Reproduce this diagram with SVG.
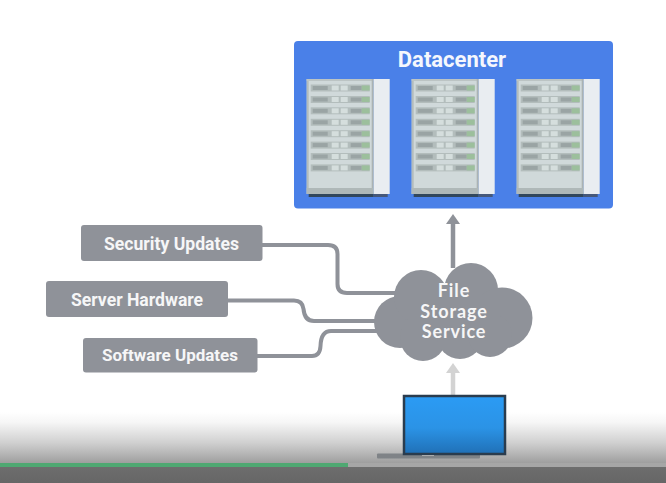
<svg xmlns="http://www.w3.org/2000/svg" xmlns:xlink="http://www.w3.org/1999/xlink" width="666" height="483" viewBox="0 0 666 483">
<style>
.lbl{fill:#8f9299}
.lt{font-family:Roboto,"Liberation Sans",sans-serif;font-weight:700;font-size:17.6px;fill:#f6f6f7;text-anchor:middle}
.ct{font-family:Lato,"Open Sans",sans-serif;font-weight:700;font-size:18px;letter-spacing:0.9px;fill:#f6f6f7;text-anchor:middle}
.conn{fill:none;stroke:#8f9299;stroke-width:4}
</style>
<defs>
<linearGradient id="fade" x1="0" y1="0" x2="0" y2="1"><stop offset="0" stop-color="#fff"/><stop offset="0.2" stop-color="#f6f6f6"/><stop offset="0.6" stop-color="#cfcfcf"/><stop offset="1" stop-color="#9c9c9c"/></linearGradient>
<linearGradient id="screen" x1="0" y1="0" x2="0" y2="1"><stop offset="0" stop-color="#2b9bf4"/><stop offset="0.55" stop-color="#2b93e6"/><stop offset="1" stop-color="#2070b6"/></linearGradient>
<linearGradient id="foot" x1="0" y1="0" x2="0" y2="1"><stop offset="0" stop-color="#6f6f6f"/><stop offset="1" stop-color="#666"/></linearGradient>
<filter id="soft" x="-5%" y="-5%" width="110%" height="110%"><feGaussianBlur stdDeviation="0.6"/></filter>
<g id="row">
<rect x="4" y="0" width="59" height="7" fill="#b3bdbc"/>
<rect x="6" y="1.500" width="15" height="4" fill="#9aa4a4"/>
<rect x="25" y="1" width="7" height="5" fill="#d5dedd"/>
<rect x="34" y="1" width="7" height="5" fill="#d5dedd"/>
<rect x="44" y="1.500" width="11" height="4" fill="#9aa4a4"/>
<rect x="55" y="1" width="8" height="5" fill="#9cbf9c"/>
</g>
<g id="rack" filter="url(#soft)">
<rect x="0" y="0" width="66.500" height="115" fill="#d0d9da"/>
<rect x="0" y="0" width="2" height="115" fill="#b4bcbc"/>
<rect x="0" y="0" width="66.500" height="2" fill="#bcc4c4"/>
<rect x="65" y="0" width="2" height="115" fill="#abb3b3"/>
<rect x="67" y="0" width="16" height="115" fill="#e9edf1"/>
<rect x="0" y="109" width="66.500" height="6" fill="#afb8b8"/>
<rect x="2" y="115" width="65" height="3" fill="#33475b"/>
<rect x="67" y="115" width="14" height="3" fill="#44597a"/>
<use xlink:href="#row" y="5.500"/>
<use xlink:href="#row" y="17"/>
<use xlink:href="#row" y="28.300"/>
<use xlink:href="#row" y="39.800"/>
<use xlink:href="#row" y="51.200"/>
<use xlink:href="#row" y="62.600"/>
<use xlink:href="#row" y="74"/>
<use xlink:href="#row" y="85.400"/>
</g>
</defs>
<rect width="666" height="483" fill="#fff"/>
<rect id="fade-band" x="0" y="412" width="666" height="52" fill="url(#fade)"/>
<g id="connectors">
<path class="conn" d="M262 245H328Q337.500 245 337.500 254V284Q337.500 293 347 293H396"/>
<path class="conn" d="M228 300.500H294Q302.500 300.500 303.500 309Q304.500 321 314 321H382"/>
<path class="conn" d="M257 356H312Q320 356 320.500 346Q321 331 331 331H382"/>
<path d="M453 268V222" fill="none" stroke="#8f9299" stroke-width="4.500"/>
<path d="M453 214L460 224H446Z" fill="#8f9299"/>
<path d="M453 396V372" fill="none" stroke="#d3d3d3" stroke-width="4.500"/>
<path d="M453 363L460 373H446Z" fill="#d3d3d3"/>
</g>
<g id="datacenter">
<rect x="294" y="41" width="319" height="167.500" rx="4" fill="#4a80e8"/>
<text x="452" y="66.500" font-family="Roboto,'Liberation Sans',sans-serif" font-weight="700" font-size="22px" fill="#f5f7fd" text-anchor="middle">Datacenter</text>
<use xlink:href="#rack" x="306.700" y="79"/>
<use xlink:href="#rack" x="411.700" y="79"/>
<use xlink:href="#rack" x="516.700" y="79"/>
</g>
<g id="security-updates"><rect class="lbl" x="81" y="225" width="181.500" height="36" rx="3"/><text class="lt" x="171.500" y="249.500">Security Updates</text></g>
<g id="server-hardware"><rect class="lbl" x="46" y="281" width="182" height="36" rx="3"/><text class="lt" x="137" y="305.500">Server Hardware</text></g>
<g id="software-updates"><rect class="lbl" x="83" y="338" width="174.500" height="34.500" rx="3"/><text class="lt" x="170" y="361" style="font-size:17px">Software Updates</text></g>
<g id="file-storage-service">
<g fill="#8f9299">
<circle cx="400" cy="322" r="26"/>
<circle cx="421" cy="297" r="27"/>
<circle cx="471" cy="290" r="27"/>
<circle cx="502" cy="318" r="30.500"/>
<circle cx="423" cy="338" r="23"/>
<circle cx="460" cy="336" r="23"/>
<circle cx="490" cy="335" r="22"/>
<rect x="410" y="295" width="90" height="45"/>
</g>
<text class="ct"><tspan x="454" y="297">File</tspan><tspan x="454" y="317.500">Storage</tspan><tspan x="454" y="337.500">Service</tspan></text>
</g>
<g id="laptop">
<rect x="377" y="453.500" width="103" height="5" rx="1" fill="#7f8387"/>
<rect x="404" y="396" width="101" height="58" fill="url(#screen)" stroke="#2a3c4e" stroke-width="2.500"/>
<rect x="422" y="455" width="12" height="1" fill="#a9acae"/>
</g>
<g id="player-bar">
<rect x="0" y="463" width="666" height="20" fill="url(#foot)"/>
<rect x="0" y="463" width="666" height="4" fill="#a6a6a6"/>
<rect x="0" y="463" width="348" height="4" fill="#4fa872"/>
</g>
</svg>
